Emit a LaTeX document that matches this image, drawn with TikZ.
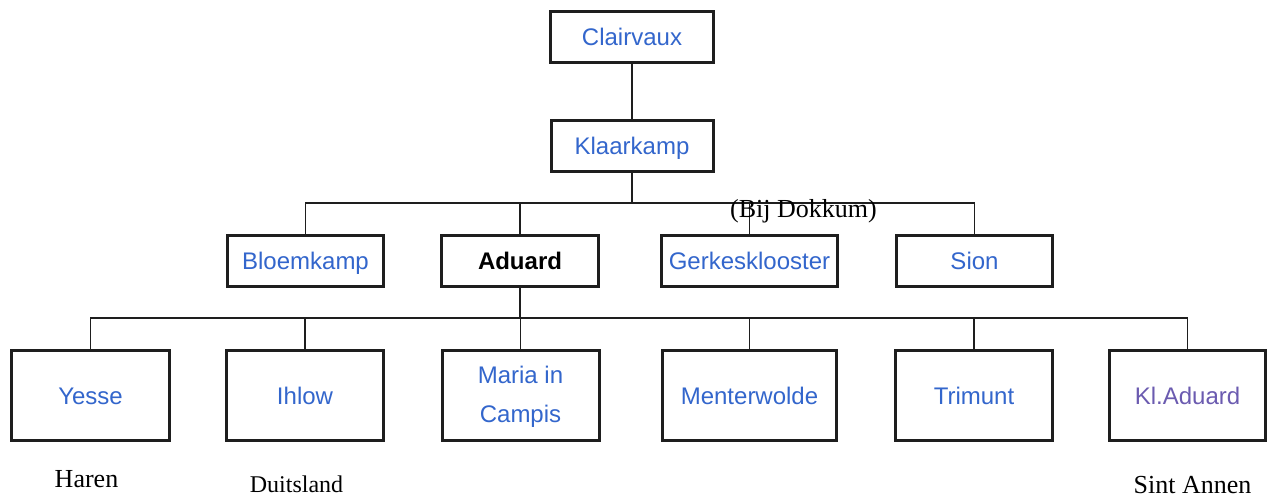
\documentclass[tikz,border=0pt]{standalone}
\usepackage{fontspec}
\setmainfont{Liberation Sans}
\newfontfamily\serifont{Liberation Serif}
\definecolor{linkblue}{HTML}{3366CC}
\definecolor{linkvisited}{HTML}{6B5BB0}
\definecolor{boxline}{HTML}{1E1E1E}
\begin{document}
\begin{tikzpicture}[x=1pt,y=-1pt,
  box/.style={draw=boxline,line width=3pt,fill=white,inner sep=0pt,
    minimum height=51pt,text height=17.2pt,text depth=0pt,
    font=\fontsize{24}{39}\selectfont,text=linkblue},
  tallbox/.style={box,minimum height=90pt},
  conn/.style={draw=boxline,line width=1.5pt},
  place/.style={anchor=base,font=\serifont\fontsize{26}{30}\selectfont,text=black},
  multi/.style={anchor=base,font=\fontsize{24}{39}\selectfont,text=linkblue}]
\useasboundingbox (0,0) rectangle (1268,498);
% top
\node[box,minimum width=163pt] (clair) at (632,36.5) {Clairvaux};
\node[box,minimum width=162pt] (klaar) at (632,145.5) {Klaarkamp};
% row 2
\node[box,minimum width=156pt] (bloem) at (305.5,260.5) {Bloemkamp};
\node[box,minimum width=157pt,text=black,font=\bfseries\fontsize{24}{39}\selectfont] (aduard) at (520,260.5) {Aduard};
\node[box,minimum width=176pt] (gerkes) at (749.5,260.5) {Gerkesklooster};
\node[box,minimum width=156pt] (sion) at (974.5,260.5) {Sion};
% row 3
\node[tallbox,minimum width=158pt] (yesse) at (90.5,395.5) {Yesse};
\node[tallbox,minimum width=157pt] (ihlow) at (305,395.5) {Ihlow};
\node[tallbox,minimum width=157pt] (maria) at (520.5,395.5) {};
\node[multi] (maria1) at (520.5,383) {Maria in};
\node[multi] (maria2) at (520.5,422) {Campis};
\node[tallbox,minimum width=174pt] (menter) at (749.5,395.5) {Menterwolde};
\node[tallbox,minimum width=157pt] (trimunt) at (974,395.5) {Trimunt};
\node[tallbox,minimum width=156pt,text=linkvisited] (kladuard) at (1187.5,395.5) {Kl.Aduard};
% buses
\coordinate (busA) at (0,203);
\coordinate (busB) at (0,318);
\draw[conn] (clair.south) -- (klaar.north);
\draw[conn] (klaar.south) -- (klaar.south |- busA) -| (bloem.north);
\draw[conn] (klaar.south |- busA) -| (sion.north);
\draw[conn] (aduard.north) -- (aduard.north |- busA);
\draw[conn] (gerkes.north) -- (gerkes.north |- busA);
\draw[conn] (aduard.south) -- (aduard.south |- busB) -| (yesse.north);
\draw[conn] (aduard.south |- busB) -| (kladuard.north);
\draw[conn] (ihlow.north) -- (ihlow.north |- busB);
\draw[conn] (maria.north) -- (maria.north |- busB);
\draw[conn] (menter.north) -- (menter.north |- busB);
\draw[conn] (trimunt.north) -- (trimunt.north |- busB);
% place labels
\node[place] (dokkum) at (803.5,217) {(Bij Dokkum)};
\node[place] (haren) at (86.5,487) {Haren};
\node[place,font=\serifont\fontsize{24}{28}\selectfont] (duits) at (296.5,492) {Duitsland};
\node[place] (sint) at (1192.5,493) {Sint Annen};
\end{tikzpicture}
\end{document}
